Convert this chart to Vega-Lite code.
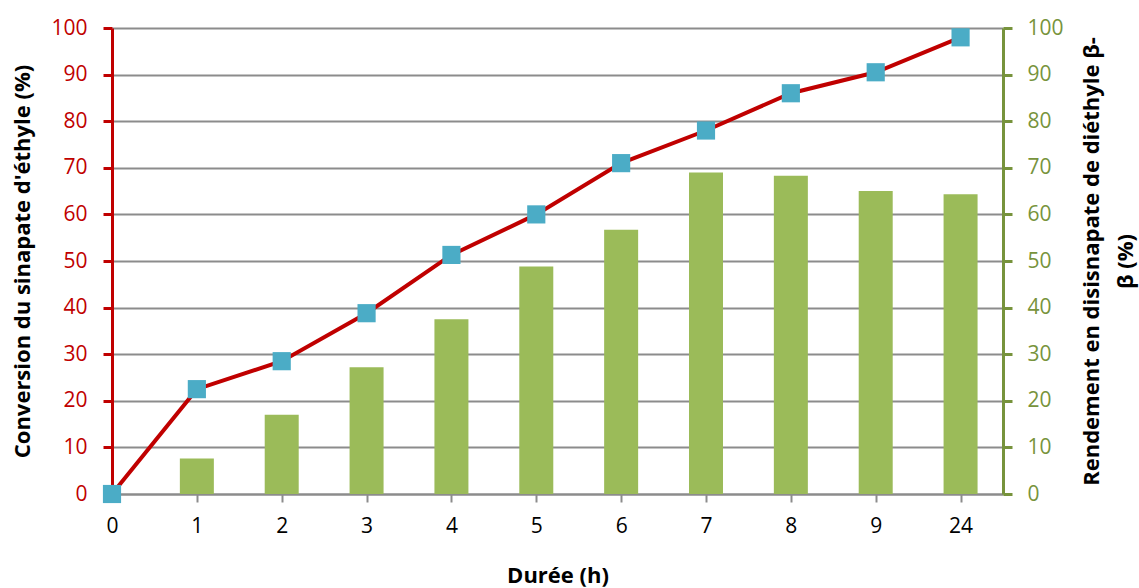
{
  "$schema": "https://vega.github.io/schema/vega-lite/v6.json",
  "width": 891,
  "height": 466,
  "autosize": "none",
  "padding": {"left": 112, "right": 136, "top": 28, "bottom": 94},
  "background": "white",
  "config": {
    "view": {"stroke": null},
    "font": "Open Sans",
    "axis": {"labelFont": "Open Sans", "titleFont": "Open Sans"}
  },
  "data": {
    "values": [
      {"i": 0, "h": "0", "conv": 0, "rend": null},
      {"i": 1, "h": "1", "conv": 22.5, "rend": 7.6},
      {"i": 2, "h": "2", "conv": 28.5, "rend": 17.0},
      {"i": 3, "h": "3", "conv": 38.8, "rend": 27.2},
      {"i": 4, "h": "4", "conv": 51.3, "rend": 37.5},
      {"i": 5, "h": "5", "conv": 60.0, "rend": 48.8},
      {"i": 6, "h": "6", "conv": 71.0, "rend": 56.7},
      {"i": 7, "h": "7", "conv": 78.0, "rend": 69.0},
      {"i": 8, "h": "8", "conv": 86.0, "rend": 68.3},
      {"i": 9, "h": "9", "conv": 90.5, "rend": 65.0},
      {"i": 10, "h": "24", "conv": 98.0, "rend": 64.3}
    ]
  },
  "encoding": {
    "x": {
      "field": "i",
      "type": "quantitative",
      "scale": {"domain": [0, 10.5], "nice": false, "zero": false, "padding": 0},
      "axis": {
        "values": [0, 1, 2, 3, 4, 5, 6, 7, 8, 9, 10],
        "labelExpr": "datum.value == 10 ? '24' : datum.value",
        "title": "Durée (h)",
        "titleFontSize": 22,
        "titleFontWeight": "bold",
        "titleColor": "#000000",
        "titlePadding": 29,
        "labelFontSize": 21,
        "labelColor": "#000000",
        "labelPadding": 13,
        "labelFlush": false,
        "domainColor": "#8c8c8c",
        "domainWidth": 2,
        "tickColor": "#8c8c8c",
        "tickWidth": 2,
        "tickSize": 8,
        "grid": false
      }
    }
  },
  "layer": [
    {
      "mark": {"type": "bar", "size": 34, "color": "#9BBB59"},
      "encoding": {
        "y": {
          "field": "rend",
          "type": "quantitative",
          "scale": {"domain": [0, 100], "nice": false},
          "axis": {
            "orient": "right",
            "values": [0, 10, 20, 30, 40, 50, 60, 70, 80, 90, 100],
            "title": ["Rendement en disisnapate de diéthyle β-", "β (%)"],
            "titleAngle": 270,
            "titleFontSize": 22,
            "titleFontWeight": "bold",
            "titleColor": "#000000",
            "titleAlign": "center",
            "titleBaseline": "bottom",
            "titleLineHeight": 34,
            "titlePadding": 6,
            "labelFontSize": 21,
            "labelColor": "#77933C",
            "labelPadding": 15,
            "domainColor": "#77933C",
            "domainWidth": 3,
            "tickColor": "#77933C",
            "tickWidth": 3,
            "tickSize": 9,
            "grid": false
          }
        }
      }
    },
    {
      "mark": {"type": "line", "color": "#C00000", "strokeWidth": 4},
      "encoding": {
        "y": {
          "field": "conv",
          "type": "quantitative",
          "scale": {"domain": [0, 100], "nice": false},
          "axis": {
            "orient": "left",
            "values": [0, 10, 20, 30, 40, 50, 60, 70, 80, 90, 100],
            "title": "Conversion du sinapate d'éthyle (%)",
            "titleFontSize": 22,
            "titleFontWeight": "bold",
            "titleColor": "#000000",
            "titlePadding": 16,
            "labelFontSize": 21,
            "labelColor": "#C00000",
            "labelPadding": 16,
            "domainColor": "#C00000",
            "domainWidth": 3,
            "tickColor": "#C00000",
            "tickWidth": 3,
            "tickSize": 9,
            "grid": true,
            "gridColor": "#8c8c8c",
            "gridWidth": 2
          }
        }
      }
    },
    {
      "mark": {"type": "point", "shape": "square", "filled": true, "opacity": 1, "size": 330, "color": "#4BACC6"},
      "encoding": {
        "y": {"field": "conv", "type": "quantitative", "scale": {"domain": [0, 100], "nice": false}, "axis": null}
      }
    }
  ],
  "resolve": {"scale": {"y": "independent"}}
}
